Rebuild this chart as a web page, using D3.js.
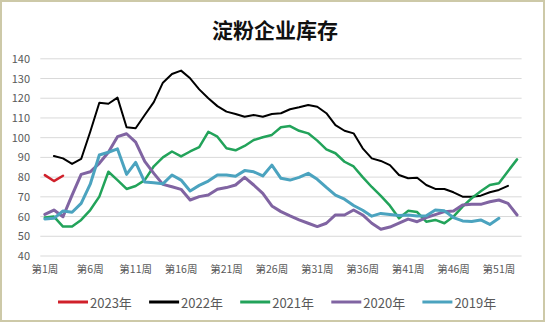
<!DOCTYPE html>
<html>
<head>
<meta charset="utf-8">
<script src="https://cdn.jsdelivr.net/npm/d3@7"></script>
<style>
  html, body { margin: 0; padding: 0; background: #fff; }
  svg { display: block; }
</style>
</head>
<body>
<svg id="chart" width="550" height="323"></svg>
<script>
// Weekly categories and the weeks that carry an axis label
const weeks = d3.range(1, 54).map(i => `第${i}周`);
const labelWeeks = ["第1周", "第6周", "第11周", "第16周", "第21周", "第26周",
                    "第31周", "第36周", "第41周", "第46周", "第51周"];
const yTicks = [40, 50, 60, 70, 80, 90, 100, 110, 120, 130, 140];

// Starch enterprise inventory by week (null = no data)
const s2023 = [81, 78, 80.7];
const s2022 = [null, 90.7, 89.5, 86.7, 89.2, 103, 117.7, 117.2, 120.3, 105.3,
  104.8, 111.5, 118, 127.9, 132.3, 134, 130.1, 124.5, 120, 116,
  113.2, 112, 110.6, 111.5, 110.6, 112, 112.4, 114.4, 115.4, 116.6,
  115.7, 112.4, 106.4, 103.5, 102.2, 94.6, 89.5, 88.2, 86.1, 81.1,
  79.4, 79.7, 76, 74, 74, 72.3, 70.1, 70.1, 70.6, 72.3,
  73.5, 75.6, null];
const s2021 = [59.5, 60, 54.9, 54.9, 58.3, 63.3, 70.1, 82.7, 78.5, 74,
  75.5, 78.5, 85.5, 90, 93, 90.5, 93, 95.2, 103, 100.5,
  94.6, 93.6, 95.8, 98.8, 100.2, 101.4, 105.3, 105.9, 103.5, 102.2,
  98.5, 94.1, 92.1, 87.8, 85.4, 80, 75, 70.5, 65.5, 59.1,
  62.9, 62.3, 57.4, 58.3, 56.6, 60, 65, 69.3, 72.8, 76,
  76.9, 83, 89];
const s2020 = [61.1, 63.3, 59.9, 70.9, 81.4, 82.7, 87, 92.6, 100.5, 102,
  97.8, 88, 81.9, 76.3, 75.1, 73.8, 68.4, 70.1, 70.9, 73.8,
  74.7, 76, 79.9, 76, 71.8, 65.4, 62.5, 60.3, 58.3, 56.6,
  54.9, 56.6, 60.8, 60.8, 63.3, 60.8, 56.6, 53.6, 54.7, 56.7,
  58.7, 57.4, 59.5, 61, 62.5, 62.8, 65.9, 66.2, 66.2, 67.5,
  68.4, 66.7, 60.8];
const s2019 = [58.8, 59.1, 62.8, 62.2, 66.7, 76.4, 91.2, 92.6, 94.3, 81.4,
  87.5, 77.5, 77.2, 76.6, 81.1, 78.5, 73, 75.8, 78, 81.1,
  81.1, 80.4, 83.3, 82.7, 80.6, 86.1, 79.4, 78.5, 79.9, 81.9,
  78.9, 74.8, 70.9, 68.8, 65.6, 63.2, 60.2, 61.6, 61, 60.5,
  60.8, 60.3, 60.4, 63.3, 62.9, 59.5, 57.8, 57.5, 58.3, 56,
  59.1, null, null];

const seriesNames = ["2023年", "2022年", "2021年", "2020年", "2019年"];
const seriesValues = [s2023, s2022, s2021, s2020, s2019];
const seriesColors = ["#d0202a", "#000000", "#22a35a", "#8064a2", "#4ba3bf"];
const seriesWidths = [2.5, 2, 2.5, 3, 3];

const svg = d3.select("#chart");
const font = "'Noto Sans CJK SC', 'Noto Sans', sans-serif";

// outer frame
svg.append("rect")
  .attr("x", 1).attr("y", 1).attr("width", 543).attr("height", 320)
  .attr("fill", "#fff").attr("stroke", "#cdc9a8").attr("stroke-width", 2);

// title
svg.append("text")
  .attr("x", 275).attr("y", 29)
  .attr("text-anchor", "middle").attr("dominant-baseline", "central")
  .attr("font-family", font).attr("font-weight", "bold")
  .attr("font-size", 21).attr("fill", "#111")
  .text("淀粉企业库存");

const x = d3.scaleBand().domain(weeks).range([40.3, 521.6]).padding(0);
const y = d3.scaleLinear().domain([40, 140]).range([256, 58.8]);
const cx = w => x(w) + x.bandwidth() / 2;

// horizontal gridlines
svg.append("g").selectAll("line").data(yTicks).join("line")
  .attr("x1", 40.3).attr("x2", 521.6)
  .attr("y1", d => y(d)).attr("y2", d => y(d))
  .attr("stroke", "#d9d9d9").attr("stroke-width", 1);

// y axis labels
const yAxis = svg.append("g").attr("transform", "translate(30,0)")
  .call(d3.axisLeft(y).tickValues(yTicks).tickSize(0).tickPadding(0));
yAxis.select(".domain").remove();
yAxis.selectAll("text")
  .attr("font-family", font).attr("font-size", 11).attr("fill", "#595959");

// x axis labels
const xAxis = svg.append("g").attr("transform", "translate(0,264)")
  .call(d3.axisBottom(x).tickValues(labelWeeks).tickSize(0).tickPadding(0));
xAxis.select(".domain").remove();
xAxis.selectAll("text")
  .attr("font-family", font).attr("font-size", 10.5).attr("fill", "#595959")
  .attr("dy", "0.9em");

// series lines
const line = d3.line()
  .defined(d => d.v != null)
  .x(d => cx(d.w))
  .y(d => y(d.v));

seriesValues.forEach((vals, i) => {
  const pts = vals.map((v, j) => ({ w: weeks[j], v }));
  svg.append("path")
    .datum(pts)
    .attr("d", line)
    .attr("fill", "none")
    .attr("stroke", seriesColors[i])
    .attr("stroke-width", seriesWidths[i])
    .attr("stroke-linejoin", "round")
    .attr("stroke-linecap", "round");
});

// legend
const legend = svg.append("g");
seriesNames.forEach((name, i) => {
  const x0 = 58 + i * 91.1;
  legend.append("line")
    .attr("x1", x0).attr("x2", x0 + 30)
    .attr("y1", 302).attr("y2", 302)
    .attr("stroke", seriesColors[i]).attr("stroke-width", 3);
  legend.append("text")
    .attr("x", x0 + 32).attr("y", 302)
    .attr("dominant-baseline", "central")
    .attr("font-family", font).attr("font-size", 13).attr("fill", "#595959")
    .text(name);
});
</script>
</body>
</html>
